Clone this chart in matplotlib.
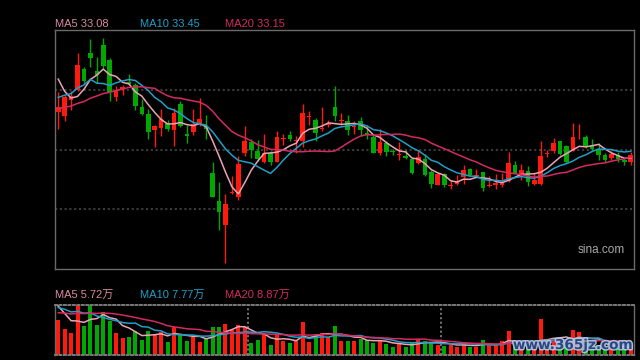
import matplotlib.pyplot as plt
import matplotlib.patheffects as pe
import numpy as np
import pandas as pd

# daily candles (price), red = up, green = down
open_ = [35.83, 35.63, 36.58, 37.21, 38.56, 39.56, 38.44, 40.06, 39.13, 36.77,
         37.31, 37.71, 37.56, 36.17, 35.75, 34.71, 34.83, 35.17, 34.71, 36.38,
         34.50, 34.58, 35.17, 35.00, 32.00, 30.25, 28.77, 30.75, 30.52, 33.27,
         33.94, 33.38, 32.71, 33.25, 32.71, 34.17, 34.38, 34.06, 34.02, 35.54,
         35.33, 34.81, 35.06, 36.19, 35.29, 35.31, 34.90, 35.31, 34.54, 34.31,
         33.27, 33.92, 33.40, 33.15, 33.08, 32.88, 32.65, 32.92, 32.08, 31.27,
         31.98, 31.21, 31.31, 31.75, 32.25, 31.83, 32.06, 31.21, 31.25, 31.25,
         31.52, 32.50, 31.92, 32.13, 31.31, 31.31, 33.23, 33.40, 34.02, 33.71,
         33.40, 34.38, 34.27, 33.81, 33.56, 33.15, 32.94, 33.13, 32.83, 32.71]
high = [37.13, 36.94, 37.15, 39.54, 38.65, 40.44, 39.33, 40.50, 39.23, 37.50,
        37.56, 38.25, 37.67, 36.69, 36.06, 35.06, 36.06, 35.33, 36.10, 36.56,
        35.06, 36.06, 36.73, 35.69, 32.71, 31.44, 30.73, 31.81, 33.08, 35.00,
        34.13, 34.08, 34.50, 33.40, 34.63, 34.48, 34.69, 34.33, 36.33, 35.90,
        35.48, 36.17, 35.33, 37.46, 35.79, 35.69, 35.27, 35.54, 35.06, 34.42,
        34.81, 34.02, 33.54, 34.00, 33.50, 32.92, 33.46, 33.19, 32.19, 32.04,
        32.04, 31.58, 31.88, 32.50, 32.35, 32.29, 32.08, 31.81, 31.94, 32.04,
        33.33, 32.79, 32.56, 32.46, 32.00, 34.06, 33.50, 34.21, 34.06, 33.81,
        35.15, 35.10, 34.38, 34.13, 33.88, 33.29, 33.38, 33.33, 32.98, 33.33]
low = [34.79, 35.31, 36.00, 37.19, 37.67, 38.65, 37.67, 38.60, 36.52, 36.52,
       36.90, 37.56, 36.00, 35.69, 34.17, 33.65, 34.33, 34.65, 33.71, 34.90,
       33.92, 34.40, 34.96, 34.13, 30.50, 28.42, 26.35, 30.69, 30.31, 33.08,
       32.94, 32.77, 32.67, 32.50, 32.69, 33.81, 34.02, 33.25, 33.67, 35.06,
       34.06, 34.65, 34.90, 35.27, 35.06, 34.40, 34.48, 34.33, 34.13, 33.25,
       33.13, 33.08, 33.13, 32.83, 32.92, 31.94, 32.56, 31.83, 31.06, 31.25,
       31.17, 31.00, 31.29, 31.35, 31.81, 31.82, 30.90, 31.17, 31.00, 31.17,
       31.48, 32.00, 31.58, 31.21, 31.25, 31.27, 33.02, 33.25, 33.15, 32.63,
       33.38, 34.19, 33.60, 33.46, 32.83, 32.73, 32.83, 32.73, 32.52, 32.50]
close = [36.19, 36.77, 36.83, 38.81, 37.81, 39.25, 38.15, 38.71, 37.08, 37.25,
         37.40, 37.63, 36.21, 35.75, 34.58, 34.96, 35.42, 34.81, 35.79, 34.96,
         34.33, 35.10, 35.44, 34.81, 30.52, 29.58, 30.06, 30.83, 32.56, 34.06,
         33.46, 32.90, 33.29, 32.71, 34.31, 34.21, 34.13, 34.12, 35.81, 35.58,
         34.52, 34.85, 35.10, 35.58, 35.33, 34.71, 34.94, 34.71, 34.44, 33.27,
         33.94, 33.33, 33.33, 33.19, 32.96, 32.00, 33.00, 31.92, 31.31, 31.94,
         31.27, 31.25, 31.52, 32.21, 31.88, 31.90, 31.08, 31.25, 31.38, 31.48,
         32.63, 32.04, 32.19, 31.46, 31.58, 33.08, 33.31, 33.92, 33.19, 32.71,
         34.27, 34.42, 33.73, 33.56, 33.13, 32.83, 33.19, 32.88, 32.73, 33.13]
# volume in 万 shares
volume = [24.3, 18.0, 15.4, 35.0, 20.3, 34.8, 20.8, 29.9, 23.8, 15.4,
          11.9, 12.6, 16.6, 10.5, 16.6, 13.5, 16.1, 9.1, 19.1, 13.5,
          9.8, 12.6, 9.1, 10.7, 19.4, 19.4, 21.5, 17.0, 20.8, 19.1,
          8.2, 10.5, 14.5, 7.0, 14.0, 9.8, 8.4, 9.6, 22.9, 9.1,
          14.5, 15.2, 12.1, 20.1, 9.8, 9.8, 9.8, 11.2, 10.0, 8.2,
          10.0, 7.7, 5.4, 7.7, 5.4, 8.6, 11.0, 9.6, 8.2, 7.0,
          6.3, 7.0, 5.4, 8.6, 5.4, 5.4, 10.3, 6.8, 6.3, 9.6,
          16.6, 7.5, 5.6, 6.3, 5.6, 25.0, 9.8, 10.5, 8.4, 8.4,
          17.3, 16.1, 8.4, 6.3, 7.0, 5.6, 5.6, 4.9, 4.9, 7.0]
# sessions before the visible window, only used to seed the moving averages
prior_close = [35.0, 35.2, 35.6, 35.4, 35.1, 35.3, 35.7, 35.5, 35.2, 35.5,
               35.4, 35.8, 35.3, 35.9, 35.7, 40.62, 38.93, 38.31, 35.55]
prior_volume = [24, 27, 26, 25, 28, 24, 26, 27, 25, 26,
                30, 34, 31, 33, 32, 43.5, 40.9, 36.0, 25.3]

price_labels = ["MA5 33.08", "MA10 33.45", "MA20 33.15"]
vol_labels = ["MA5 5.72万", "MA10 7.77万", "MA20 8.87万"]
month_breaks = [29.5, 59.5]

RED = '#ff1a0d'
GREEN = '#00a800'
ma_colors = ['#eba3b8', '#1f9fc6', '#d42a62']
label_colors = ['#d98aa2', '#1f9fc6', '#d42a62']

n = len(close)
x = np.arange(n)
o = np.array(open_)
c = np.array(close)
cols = [RED if c[i] >= o[i] else GREEN for i in range(n)]

full_c = pd.Series(prior_close + close)
full_v = pd.Series(prior_volume + volume)
ma_p = [full_c.rolling(k).mean().values[-n:] for k in (5, 10, 20)]
ma_v = [full_v.rolling(k).mean().values[-n:] for k in (5, 10, 20)]

fig = plt.figure(figsize=(6.4, 3.6), dpi=100, facecolor='black')
ax = fig.add_axes([55/640, 1-269/360, 579/640, 239/360])
axv = fig.add_axes([55/640, 1-354.7/360, 579/640, 50/360])

for a in (ax, axv):
    a.set_facecolor('black')
    a.set_xlim(-0.5, n-0.5)
    a.set_xticks([])
    a.tick_params(length=0, labelleft=False, labelbottom=False)
    for s in a.spines.values():
        s.set_color('#6a6a6a')
        s.set_linewidth(1)

# main price panel
ax.set_ylim(26, 41)
ax.set_yticks([29.75, 33.5, 37.25])
ax.grid(axis='y', color='#3c3c3c', lw=1.5, ls=(0, (1, 1.3)))
ax.vlines(x, low, high, color=cols, lw=1, zorder=2)
ax.bar(x, np.maximum(np.abs(c-o), 0.06), bottom=np.minimum(o, c), width=0.72,
       color=cols, zorder=3)
for m, col in zip(ma_p, ma_colors):
    ax.plot(x, m, color=col, lw=1.1, zorder=4)
ax.text(0.985, 0.08, 'sina.com', transform=ax.transAxes, ha='right', va='center',
        color='#a8a8a8', fontsize=8.5, family=['Liberation Sans', 'DejaVu Sans'])

# volume panel
axv.set_ylim(0, max(volume))
axv.bar(x, volume, width=0.62, color=cols, zorder=2)
for m, col in zip(ma_v, ma_colors):
    axv.plot(x, m, color=col, lw=1.1, zorder=3)
for b in month_breaks:
    axv.axvline(b, color='#7a7a7a', lw=1.4, ls=(0, (1, 1.3)), zorder=1)
for side in ('top', 'bottom'):
    axv.spines[side].set_linestyle((0, (1, 1.3)))
    axv.spines[side].set_linewidth(1.4)
    axv.spines[side].set_color('#7a7a7a')

fam = ['Liberation Sans', 'Noto Sans CJK SC', 'DejaVu Sans']
for i, (t1, t2) in enumerate(zip(price_labels, vol_labels)):
    fig.text((55 + 85*i)/640, 1-24/360, t1, color=label_colors[i], fontsize=8,
             va='center', family=fam)
    fig.text((55 + 85*i)/640, 1-295/360, t2, color=label_colors[i], fontsize=8,
             va='center', family=fam)

fig.text(633/640, 1-345/360, 'www.365jz.com', ha='right', va='center',
         color='#1d3a78', fontsize=9.8, fontweight='bold', alpha=0.9,
         path_effects=[pe.withStroke(linewidth=2.2, foreground='#b8cce8')])

plt.savefig('out.png', dpi=100, facecolor='black')
